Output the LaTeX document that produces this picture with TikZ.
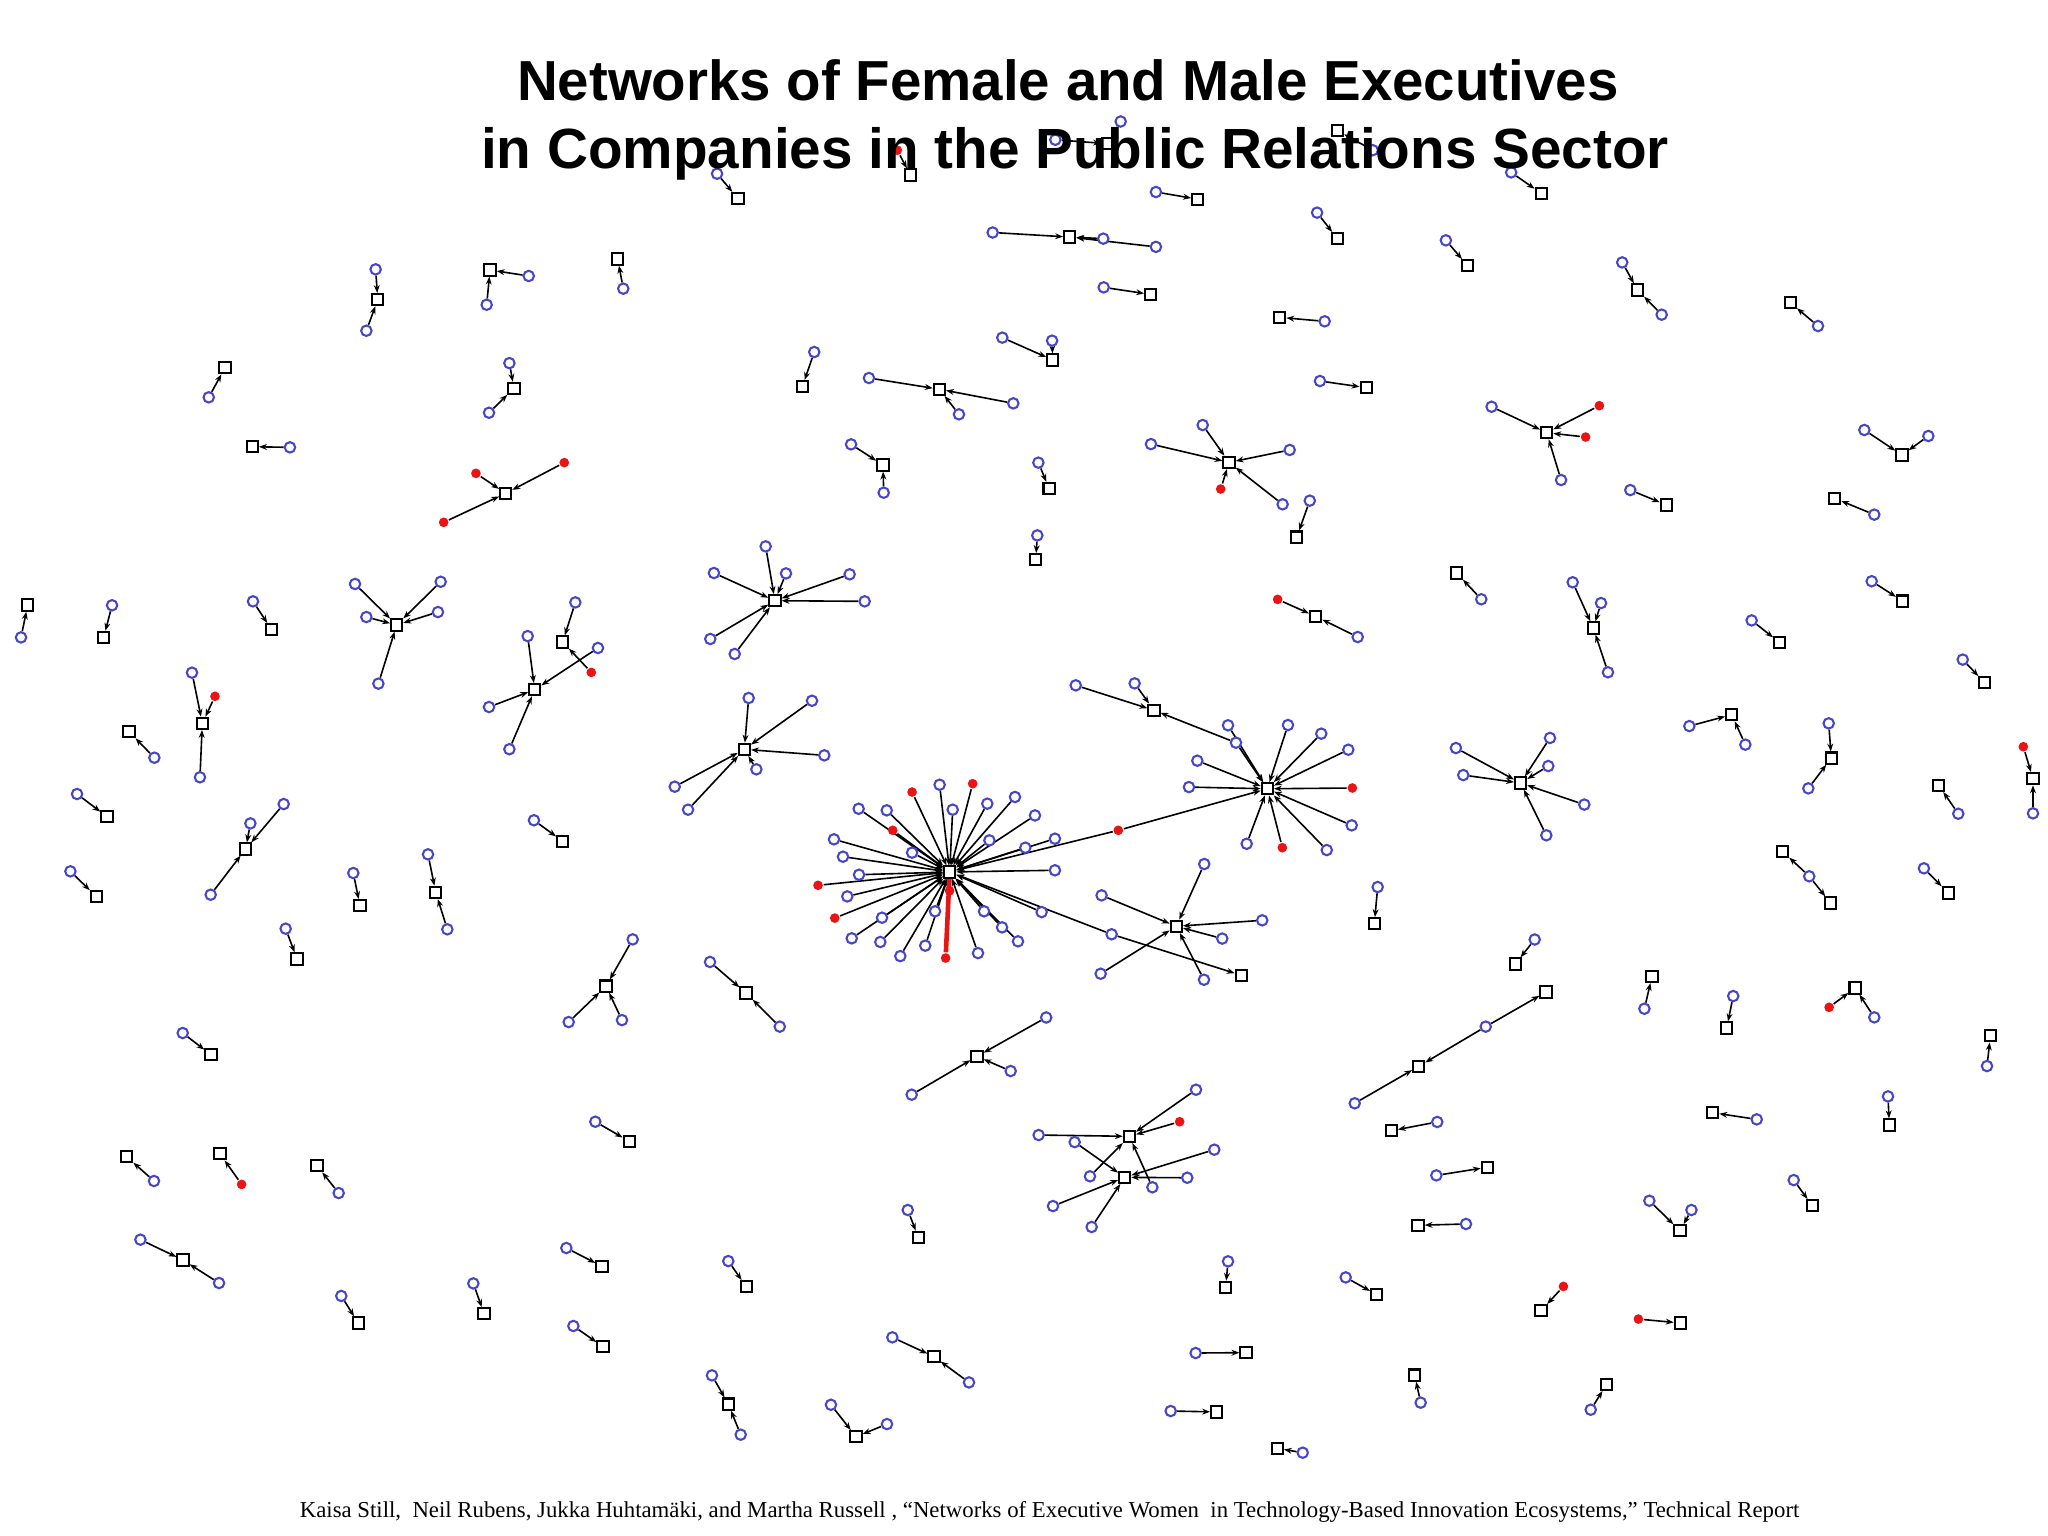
\documentclass[tikz,border=0pt]{standalone}
\usepackage{fontspec}
\setmainfont{Liberation Serif}
\newfontfamily\titlefont{Liberation Sans}
\usetikzlibrary{arrows.meta}
\definecolor{pblue}{RGB}{70,70,200}
\definecolor{wred}{RGB}{235,20,20}
\pgfdeclarelayer{back}
\pgfdeclarelayer{edges}
\pgfsetlayers{back,edges,main}
\tikzset{
 pc/.style={circle,draw=pblue,line width=0.45pt,fill=white,inner sep=0pt,minimum size=0.8mm},
 wf/.style={circle,fill=wred,inner sep=0pt,minimum size=0.74mm},
 co/.style={rectangle,draw=black,line width=0.45pt,fill=white,inner sep=0pt,minimum size=0.86mm},
 ed/.style={draw=black,line width=0.35pt,-{Stealth[length=0.6mm,width=0.45mm]}},
 red edge/.style={draw=wred,line width=1pt},
}
\begin{document}
\begin{tikzpicture}[x=0.1mm,y=-0.1mm]
\begin{pgfonlayer}{back}
\fill[white] (0,0) rectangle (1568,1176);
\end{pgfonlayer}
\useasboundingbox (0,0) rectangle (1568,1176);

% ---------------- nodes ----------------
\node[pc] (g1a) at (549,133) {}; \node[co] (g1s) at (565,152) {};
\node[wf] (g2a) at (687,115) {}; \node[co] (g2s) at (697,134) {};
\node[pc] (g3a) at (808,107) {}; \node[pc] (g3b) at (858,93) {}; \node[co] (g3s) at (848,110) {};
\node[co] (g4s) at (1024,100) {}; \node[pc] (g4a) at (1051,115) {};
\node[pc] (g5a) at (1157,132) {}; \node[co] (g5s) at (1180,148) {};
\node[pc] (g6a) at (885,147) {}; \node[co] (g6s) at (917,152.5) {};
\node[pc] (g7a) at (760,178) {}; \node[co] (g7s) at (819,181.5) {}; \node[pc] (g7b) at (844.7,182.7) {}; \node[pc] (g7c) at (885,189) {};
\node[pc] (g8a) at (845,220) {}; \node[co] (g8s) at (881,225.4) {};
\node[pc] (g9a) at (1008.4,162.8) {}; \node[co] (g9s) at (1023.9,182.7) {};
\node[pc] (g10a) at (1107,184) {}; \node[co] (g10s) at (1123.7,203.4) {};
\node[co] (g11s) at (979.8,243) {}; \node[pc] (g11a) at (1014.2,246) {};
\node[pc] (g12a) at (1010.6,291.7) {}; \node[co] (g12s) at (1046,296.8) {};
\node[pc] (g13a) at (1242,200.9) {}; \node[co] (g13s) at (1253.8,222) {}; \node[pc] (g13b) at (1272.2,240.9) {};
\node[co] (g14s) at (1370.7,231.7) {}; \node[pc] (g14a) at (1391.9,249.6) {};
\node[pc] (g15a) at (287.6,206.2) {}; \node[co] (g15s) at (289.2,229.4) {}; \node[pc] (g15b) at (280.5,253.2) {};
\node[co] (g16s) at (375.2,206.7) {}; \node[pc] (g16a) at (404.8,211.3) {}; \node[pc] (g16b) at (372.6,233.3) {};
\node[co] (g17s) at (472.9,198.3) {}; \node[pc] (g17a) at (477.2,221) {};
\node[co] (g18s) at (172.3,281.5) {}; \node[pc] (g18a) at (159.8,304.2) {};
\node[co] (g19s) at (193.2,342) {}; \node[pc] (g19a) at (222,342.5) {};
\node[pc] (g20a) at (390,278) {}; \node[co] (g20s) at (393.5,297.3) {}; \node[pc] (g20b) at (374.4,316) {};
\node[wf] (g21a) at (364.4,362.4) {}; \node[co] (g21s) at (387.2,377.7) {}; \node[wf] (g21b) at (432,354.2) {}; \node[wf] (g21c) at (339.7,399.9) {};
\node[pc] (g22a) at (623.4,269.5) {}; \node[co] (g22s) at (614.3,296) {};
\node[pc] (g23a) at (665.3,289.4) {}; \node[co] (g23s) at (719.2,298) {}; \node[pc] (g23b) at (775.8,308.8) {}; \node[pc] (g23c) at (734.2,317.2) {};
\node[pc] (g24a) at (767.4,258.5) {}; \node[pc] (g24b) at (805.5,260.8) {}; \node[co] (g24s) at (806,275.6) {};
\node[pc] (g25a) at (651.6,340.2) {}; \node[co] (g25s) at (676,356) {}; \node[pc] (g25b) at (676.6,377.2) {};
\node[pc] (g26a) at (795,354.2) {}; \node[co] (g26s) at (803.2,373.9) {};
\node[pc] (g27a) at (794.2,409.9) {}; \node[co] (g27s) at (793,428.5) {};
\node[co] (g28s) at (941,354) {}; \node[pc] (g28a) at (920.8,325.4) {}; \node[pc] (g28b) at (881.2,340) {}; \node[pc] (g28c) at (987.4,344.5) {}; \node[wf] (g28d) at (934.6,374.4) {}; \node[pc] (g28e) at (982,386.1) {};
\node[pc] (g29a) at (1002.8,383.3) {}; \node[co] (g29s) at (992.8,411.2) {};
\node[co] (g31s) at (1184.2,331.3) {}; \node[pc] (g31a) at (1142,311.4) {}; \node[wf] (g31b) at (1224.5,310.6) {}; \node[wf] (g31c) at (1214,334.6) {}; \node[pc] (g31d) at (1195.2,367.5) {};
\node[pc] (g32a) at (1427.4,329.2) {}; \node[co] (g32s) at (1456.2,348.4) {}; \node[pc] (g32b) at (1476.4,333.8) {};
\node[pc] (g33a) at (1248.2,375.2) {}; \node[co] (g33s) at (1275.8,386.6) {};
\node[co] (g34s) at (1404.7,381.5) {}; \node[pc] (g34a) at (1435,394) {};
\node[co] (g35s) at (21.2,463.2) {}; \node[pc] (g35a) at (16.1,488) {};
\node[pc] (g36a) at (85.8,463.4) {}; \node[co] (g36s) at (79.4,488) {};
\node[pc] (g37a) at (193.7,460.4) {}; \node[co] (g37s) at (208,482.1) {};
\node[co] (g38s) at (303.7,478.5) {}; \node[pc] (g38a) at (271.8,447.1) {}; \node[pc] (g38b) at (337.4,445.4) {}; \node[pc] (g38c) at (280.5,472.4) {}; \node[pc] (g38d) at (335.3,468.6) {}; \node[pc] (g38e) at (289.7,523.4) {};
\node[pc] (g39a) at (147,515) {}; \node[wf] (g39b) at (164.6,533.1) {}; \node[co] (g39s) at (154.9,553.8) {}; \node[pc] (g39c) at (153.1,595.1) {};
\node[co] (g40s) at (98.8,560.2) {}; \node[pc] (g40a) at (118.2,580.1) {};
\node[pc] (g41a) at (59,607.9) {}; \node[co] (g41s) at (81.9,625.3) {};
\node[pc] (g42a) at (53.9,667.1) {}; \node[co] (g42s) at (73.8,686.5) {};
\node[pc] (g43a) at (191.7,630.4) {}; \node[pc] (g43b) at (217.2,615.6) {}; \node[co] (g43s) at (188.1,650) {}; \node[pc] (g43c) at (161.3,685) {};
\node[pc] (g44a) at (270.5,668.4) {}; \node[co] (g44s) at (275.6,693.4) {};
\node[pc] (g45a) at (327.7,654.1) {}; \node[co] (g45s) at (333.6,683.2) {}; \node[pc] (g45b) at (342.5,711.5) {};
\node[pc] (g46a) at (218.7,711) {}; \node[co] (g46s) at (227.4,734.2) {};
\node[pc] (g47a) at (440.5,461.2) {}; \node[co] (g47s) at (430.8,491.5) {}; \node[wf] (g47b) at (452.7,514.8) {}; \node[pc] (g47c) at (457.8,496.1) {}; \node[pc] (g47d) at (404,487) {}; \node[co] (g47t) at (409.4,528) {}; \node[pc] (g47e) at (374.4,541.3) {}; \node[pc] (g47f) at (390,573.6) {};
\node[co] (g48s) at (593.3,459.9) {}; \node[pc] (g48a) at (586.2,418.3) {}; \node[pc] (g48b) at (546.6,438.7) {}; \node[pc] (g48c) at (601.8,439) {}; \node[pc] (g48d) at (650.5,439.7) {}; \node[pc] (g48e) at (662,460.4) {}; \node[pc] (g48f) at (543.8,489.2) {}; \node[pc] (g48g) at (562.5,500.7) {};
\node[co] (g49s) at (569.9,573.7) {}; \node[pc] (g49a) at (573.2,534.4) {}; \node[pc] (g49b) at (621.7,536.5) {}; \node[pc] (g49c) at (631.1,578.3) {}; \node[pc] (g49d) at (579.1,589) {}; \node[pc] (g49e) at (516.6,602.3) {}; \node[pc] (g49f) at (526.8,619.9) {};
\node[pc] (g50a) at (408.8,628) {}; \node[co] (g50s) at (430.8,644.1) {};
% hub
\node[co] (hub) at (727.1,667.6) {};
\node[wf] (h1) at (698.3,606.4) {}; \node[pc] (h2) at (719.4,600.8) {}; \node[wf] (h3) at (744.7,600) {};
\node[pc] (h4) at (729.4,619.9) {}; \node[pc] (h5) at (755.9,615.3) {}; \node[pc] (h6) at (777.1,610.2) {};
\node[pc] (h7) at (657.4,619.2) {}; \node[pc] (h8) at (678.9,620.4) {}; \node[wf] (h9) at (683.5,635.7) {};
\node[pc] (h10) at (638.5,642.6) {}; \node[pc] (h11) at (698.3,652.8) {}; \node[pc] (h12) at (757.5,643.4) {};
\node[pc] (h13) at (785,649) {}; \node[pc] (h14) at (645.4,655.9) {}; \node[pc] (h15) at (657.7,669.7) {};
\node[wf] (h16) at (626.3,677.8) {}; \node[pc] (h17) at (648.7,686.3) {}; \node[wf] (h18) at (639.1,702.9) {};
\node[pc] (h19) at (675.3,702.6) {}; \node[pc] (h20) at (715.9,697.7) {}; \node[pc] (h21) at (753.4,697.7) {};
\node[pc] (h22) at (767.2,710) {}; \node[pc] (h23) at (779.4,720.7) {}; \node[pc] (h24) at (652.1,718.4) {};
\node[pc] (h25) at (674,721.2) {}; \node[pc] (h26) at (689.3,732) {}; \node[pc] (h27) at (708.4,724) {};
\node[pc] (h28) at (748.8,729.7) {}; \node[pc] (h29) at (792.4,624.3) {}; \node[pc] (h30) at (807.7,642.1) {};
\node[pc] (h31) at (807.7,666.3) {}; \node[pc] (h32) at (797.5,698.3) {};
\node[wf] (h33) at (724,733.5) {}; \node[wf] (h34) at (727,682) {};
\node[wf] (bx) at (856.2,635.7) {}; \node[pc] (cx) at (851.1,715.3) {};
% star b
\node[co] (sb) at (970.3,603.9) {};
\node[pc] (b1) at (940.2,555.3) {}; \node[pc] (b2) at (946.3,568.6) {}; \node[pc] (b3) at (986.1,555.1) {};
\node[pc] (b4) at (1011.6,561.7) {}; \node[pc] (b5) at (1032.3,574) {}; \node[pc] (b6) at (916.7,582.4) {};
\node[pc] (b7) at (910.3,602.6) {}; \node[wf] (b8) at (1035.4,603.3) {}; \node[pc] (b9) at (1034.9,631.9) {};
\node[pc] (b10) at (1015.8,650.8) {}; \node[wf] (b11) at (981.8,649) {}; \node[pc] (b12) at (954.5,646) {};
\node[co] (sa) at (883.5,543.8) {}; \node[pc] (a1) at (823.6,524.7) {}; \node[pc] (a2) at (868.7,523.2) {};
% star c
\node[co] (sc) at (900.6,709.2) {};
\node[pc] (c1) at (922,661.5) {}; \node[pc] (c2) at (843.4,685.5) {}; \node[pc] (c3) at (966.4,704.6) {};
\node[pc] (c4) at (935.8,718.6) {}; \node[pc] (c5) at (842.7,745.5) {}; \node[pc] (c6) at (921.8,750.1) {};
\node[co] (sd) at (950.4,746.7) {};
% right middle
\node[pc] (g51a) at (1054.8,679.1) {}; \node[co] (g51s) at (1052.2,707.2) {};
\node[wf] (g52a) at (978.2,458.9) {}; \node[co] (g52s) at (1007.3,471.9) {}; \node[pc] (g52b) at (1039.5,487.7) {};
\node[co] (g53s) at (1115.3,438.7) {}; \node[pc] (g53a) at (1134.1,458.8) {};
\node[pc] (g54a) at (1204.1,445.8) {}; \node[pc] (g54b) at (1225.8,461.7) {}; \node[co] (g54s) at (1219.9,480.8) {}; \node[pc] (g54c) at (1231.1,514.7) {};
\node[co] (g56s) at (1164.2,599.5) {}; \node[pc] (g56a) at (1114.7,572.7) {}; \node[pc] (g56b) at (1120.3,593.4) {}; \node[pc] (g56c) at (1186.7,565) {}; \node[pc] (g56d) at (1185.4,586.5) {}; \node[pc] (g56e) at (1213,616) {}; \node[pc] (g56f) at (1183.9,639.5) {};
\node[pc] (g57a) at (1293.4,555.9) {}; \node[co] (g57s) at (1325.8,547.2) {}; \node[pc] (g57b) at (1336.3,570.1) {};
\node[pc] (g58a) at (1400.1,553.8) {}; \node[co] (g58s) at (1402.1,580.4) {}; \node[pc] (g58b) at (1384.5,603.6) {};
\node[pc] (g59a) at (1341.1,475) {}; \node[co] (g59s) at (1362.6,492) {};
\node[pc] (g60a) at (1433,445) {}; \node[co] (g60s) at (1456.7,460.2) {};
\node[pc] (g61a) at (1502.7,505) {}; \node[co] (g61s) at (1519.5,522.7) {};
\node[wf] (g62a) at (1549.1,571.7) {}; \node[co] (g62s) at (1556.5,596.2) {}; \node[pc] (g62b) at (1556.5,622.7) {};
\node[co] (g63s) at (1484.3,601.3) {}; \node[pc] (g63a) at (1499.3,623) {};
\node[co] (g64s) at (1364.8,651.8) {}; \node[pc] (g64a) at (1385.2,670.9) {}; \node[co] (g64t) at (1401.6,691.4) {};
\node[pc] (g65a) at (1473,664.8) {}; \node[co] (g65s) at (1491.6,683.7) {};
\node[pc] (g66a) at (1175,719.3) {}; \node[co] (g66s) at (1160.1,738) {};
\node[co] (g67s) at (1264.8,747.5) {}; \node[pc] (g67a) at (1259,772.3) {};
\node[pc] (g68a) at (1327,762.6) {}; \node[co] (g68s) at (1322,787) {};
\node[wf] (g69a) at (1400.4,771.2) {}; \node[co] (g69s) at (1420.3,756.4) {}; \node[pc] (g69b) at (1435,778.9) {};
\node[co] (g70s) at (1523.9,793) {}; \node[pc] (g70a) at (1521.3,816.2) {};
% lower middle
\node[pc] (g71a) at (484.4,719.2) {}; \node[co] (g71s) at (464,755) {}; \node[pc] (g71b) at (435.4,782.5) {}; \node[pc] (g71c) at (476.2,781) {};
\node[pc] (g72a) at (543.6,736.5) {}; \node[co] (g72s) at (571.2,760.3) {}; \node[pc] (g72b) at (597,786) {};
\node[co] (g74s) at (748,808.8) {}; \node[pc] (g74a) at (698,838.1) {}; \node[pc] (g74b) at (773.8,820) {}; \node[pc] (g74c) at (801,779) {};
\node[co] (g75s) at (1183.7,759.5) {}; \node[pc] (g75a) at (1137.5,786) {}; \node[co] (g75t) at (1086.2,816.4) {}; \node[pc] (g75b) at (1037.2,844.7) {};
\node[co] (g76s) at (1065.2,865.7) {}; \node[pc] (g76a) at (1100.4,859) {};
\node[pc] (g77a) at (1099.7,899.9) {}; \node[co] (g77s) at (1138.7,893.7) {};
\node[co] (g78s) at (1085.7,938.1) {}; \node[pc] (g78a) at (1122.4,937.1) {};
% double star
\node[co] (d1) at (864.7,870) {}; \node[co] (d2) at (861.1,901.4) {};
\node[pc] (da) at (795.2,869) {}; \node[pc] (db) at (915.7,834.3) {}; \node[wf] (dc) at (903.2,858.8) {};
\node[pc] (dd) at (834.5,900.6) {}; \node[pc] (de) at (882.3,909) {};
\node[pc] (df) at (822.8,874.4) {}; \node[pc] (dg) at (929.7,880.2) {}; \node[pc] (dh) at (909,901.7) {};
\node[pc] (di) at (806.2,923.4) {}; \node[pc] (dj) at (835.8,939.4) {};
\node[pc] (g80a) at (940.2,965.7) {}; \node[co] (g80s) at (938.4,985.6) {};
\node[pc] (g81a) at (1030.3,978) {}; \node[co] (g81s) at (1054,991.2) {};
\node[pc] (g82a) at (915.4,1035.9) {}; \node[co] (g82s) at (954,1035.6) {};
\node[pc] (g83a) at (896.3,1080.3) {}; \node[co] (g83s) at (931.5,1081) {};
\node[co] (g84s) at (977.9,1108.9) {}; \node[pc] (g84a) at (997.4,1112.2) {};
\node[co] (g85s) at (1083.1,1052.8) {}; \node[pc] (g85a) at (1087.7,1073.9) {};
\node[co] (g86s) at (1311.3,851.9) {}; \node[pc] (g86a) at (1345,857) {};
\node[pc] (g87a) at (1445.5,839.4) {}; \node[co] (g87s) at (1446.5,861.3) {};
\node[pc] (g88a) at (1373.3,903.5) {}; \node[co] (g88s) at (1387.6,923.1) {};
\node[pc] (g89a) at (1262.8,919.3) {}; \node[co] (g89s) at (1286.3,942.3) {}; \node[pc] (g89b) at (1295,926.4) {};
\node[wf] (g90a) at (1197,984.9) {}; \node[co] (g90s) at (1179.8,1003.5) {};
\node[wf] (g91a) at (1254.4,1009.9) {}; \node[co] (g91s) at (1286.5,1012.9) {};
\node[co] (g92s) at (1230.1,1059.9) {}; \node[pc] (g92a) at (1217.9,1079.3) {};
% lower left
\node[pc] (g93a) at (139.9,790.9) {}; \node[co] (g93s) at (161.5,807.5) {};
\node[co] (g94s) at (97,885.6) {}; \node[pc] (g94a) at (117.9,904.2) {};
\node[co] (g95s) at (168.4,883.3) {}; \node[wf] (g95a) at (185,906.8) {};
\node[co] (g96s) at (242.7,892.5) {}; \node[pc] (g96a) at (259.3,913.4) {};
\node[pc] (g97a) at (107.5,949.1) {}; \node[co] (g97s) at (140.1,964.7) {}; \node[pc] (g97b) at (167.7,982.3) {};
\node[pc] (g98a) at (261.3,992.2) {}; \node[co] (g98s) at (274.3,1012.9) {};
\node[pc] (g99a) at (362.4,982.6) {}; \node[co] (g99s) at (370.6,1005.8) {};
\node[pc] (g100a) at (455.8,858.8) {}; \node[co] (g100s) at (481.8,873.8) {};
\node[pc] (g101a) at (433.6,955.5) {}; \node[co] (g101s) at (460.9,969.5) {};
\node[pc] (g102a) at (557.6,965.5) {}; \node[co] (g102s) at (571.4,985.1) {};
\node[pc] (g103a) at (439,1015.2) {}; \node[co] (g103s) at (461.7,1031.1) {};
\node[pc] (g104a) at (545.1,1053) {}; \node[co] (g104s) at (557.6,1075) {}; \node[pc] (g104b) at (567.1,1098.4) {};
\node[pc] (g105a) at (636.2,1075.5) {}; \node[co] (g105s) at (655.4,1100) {}; \node[pc] (g105b) at (679.1,1090.3) {};
\node[pc] (g106a) at (683.2,1023.9) {}; \node[co] (g106s) at (715.1,1038.7) {}; \node[pc] (g106b) at (741.9,1058.4) {};
\node[pc] (g107a) at (695,926.4) {}; \node[co] (g107s) at (703.1,947.3) {};

% ---------------- edges ----------------
\begin{pgfonlayer}{edges}
\draw[ed] (g1a) -- (g1s); \draw[ed] (g2a) -- (g2s);
\draw[ed] (g3a) -- (g3s); \draw[ed] (g3b) -- (g3s);
\draw[ed] (g4a) -- (g4s); \draw[ed] (g5a) -- (g5s); \draw[ed] (g6a) -- (g6s);
\draw[ed] (g7a) -- (g7s); \draw[ed] (g7b) -- (g7s); \draw[ed] (g7c) -- (g7s);
\draw[ed] (g8a) -- (g8s); \draw[ed] (g9a) -- (g9s); \draw[ed] (g10a) -- (g10s);
\draw[ed] (g11a) -- (g11s); \draw[ed] (g12a) -- (g12s);
\draw[ed] (g13a) -- (g13s); \draw[ed] (g13b) -- (g13s);
\draw[ed] (g14a) -- (g14s);
\draw[ed] (g15a) -- (g15s); \draw[ed] (g15b) -- (g15s);
\draw[ed] (g16a) -- (g16s); \draw[ed] (g16b) -- (g16s);
\draw[ed] (g17a) -- (g17s); \draw[ed] (g18a) -- (g18s); \draw[ed] (g19a) -- (g19s);
\draw[ed] (g20a) -- (g20s); \draw[ed] (g20b) -- (g20s);
\draw[ed] (g21a) -- (g21s); \draw[ed] (g21b) -- (g21s); \draw[ed] (g21c) -- (g21s);
\draw[ed] (g22a) -- (g22s);
\draw[ed] (g23a) -- (g23s); \draw[ed] (g23b) -- (g23s); \draw[ed] (g23c) -- (g23s);
\draw[ed] (g24a) -- (g24s); \draw[ed] (g24b) -- (g24s);
\draw[ed] (g25a) -- (g25s); \draw[ed] (g25b) -- (g25s);
\draw[ed] (g26a) -- (g26s); \draw[ed] (g27a) -- (g27s);
\foreach \n in {g28a,g28b,g28c,g28d,g28e} \draw[ed] (\n) -- (g28s);
\draw[ed] (g29a) -- (g29s);
\foreach \n in {g31a,g31b,g31c,g31d} \draw[ed] (\n) -- (g31s);
\draw[ed] (g32a) -- (g32s); \draw[ed] (g32b) -- (g32s);
\draw[ed] (g33a) -- (g33s); \draw[ed] (g34a) -- (g34s);
\draw[ed] (g35a) -- (g35s); \draw[ed] (g36a) -- (g36s); \draw[ed] (g37a) -- (g37s);
\foreach \n in {g38a,g38b,g38c,g38d,g38e} \draw[ed] (\n) -- (g38s);
\foreach \n in {g39a,g39b,g39c} \draw[ed] (\n) -- (g39s);
\draw[ed] (g40a) -- (g40s); \draw[ed] (g41a) -- (g41s); \draw[ed] (g42a) -- (g42s);
\foreach \n in {g43a,g43b,g43c} \draw[ed] (\n) -- (g43s);
\draw[ed] (g44a) -- (g44s);
\draw[ed] (g45a) -- (g45s); \draw[ed] (g45b) -- (g45s);
\draw[ed] (g46a) -- (g46s);
\draw[ed] (g47a) -- (g47s); \draw[ed] (g47b) -- (g47s);
\foreach \n in {g47c,g47d,g47e,g47f} \draw[ed] (\n) -- (g47t);
\foreach \n in {g48a,g48b,g48c,g48d,g48e,g48f,g48g} \draw[ed] (\n) -- (g48s);
\foreach \n in {g49a,g49b,g49c,g49d,g49e,g49f} \draw[ed] (\n) -- (g49s);
\draw[ed] (g50a) -- (g50s);
\foreach \n in {h1,h2,h3,h4,h5,h6,h7,h8,h9,h10,h11,h12,h13,h14,h15,h16,h17,h18,h19,h20,h21,h22,h23,h24,h25,h26,h27,h28,h29,h30,h31,h32,bx,cx} \draw[ed] (\n) -- (hub);
\draw[red edge] (h33) -- (hub.center);
\foreach \n in {b1,b2,b3,b4,b5,b6,b7,b8,b9,b10,b11,b12,bx} \draw[ed] (\n) -- (sb);
\draw[ed] (a1) -- (sa); \draw[ed] (a2) -- (sa); \draw[ed] (b2) -- (sa);
\foreach \n in {c1,c2,c3,c4,c5,c6} \draw[ed] (\n) -- (sc);
\draw[ed] (cx) -- (sd);
\draw[ed] (g51a) -- (g51s);
\draw[ed] (g52a) -- (g52s); \draw[ed] (g52b) -- (g52s);
\draw[ed] (g53a) -- (g53s);
\foreach \n in {g54a,g54b,g54c} \draw[ed] (\n) -- (g54s);
\foreach \n in {g56a,g56b,g56c,g56d,g56e,g56f} \draw[ed] (\n) -- (g56s);
\draw[ed] (g57a) -- (g57s); \draw[ed] (g57b) -- (g57s);
\draw[ed] (g58a) -- (g58s); \draw[ed] (g58b) -- (g58s);
\draw[ed] (g59a) -- (g59s); \draw[ed] (g60a) -- (g60s); \draw[ed] (g61a) -- (g61s);
\draw[ed] (g62a) -- (g62s); \draw[ed] (g62b) -- (g62s);
\draw[ed] (g63a) -- (g63s);
\draw[ed] (g64a) -- (g64s); \draw[ed] (g64a) -- (g64t);
\draw[ed] (g65a) -- (g65s); \draw[ed] (g66a) -- (g66s); \draw[ed] (g67a) -- (g67s); \draw[ed] (g68a) -- (g68s);
\draw[ed] (g69a) -- (g69s); \draw[ed] (g69b) -- (g69s);
\draw[ed] (g70a) -- (g70s);
\foreach \n in {g71a,g71b,g71c} \draw[ed] (\n) -- (g71s);
\draw[ed] (g72a) -- (g72s); \draw[ed] (g72b) -- (g72s);
\foreach \n in {g74a,g74b,g74c} \draw[ed] (\n) -- (g74s);
\draw[ed] (g75a) -- (g75s); \draw[ed] (g75a) -- (g75t); \draw[ed] (g75b) -- (g75t);
\draw[ed] (g76a) -- (g76s); \draw[ed] (g77a) -- (g77s); \draw[ed] (g78a) -- (g78s);
\foreach \n in {da,db,dc,dd,de} \draw[ed] (\n) -- (d1);
\foreach \n in {df,dg,dh,di,dj} \draw[ed] (\n) -- (d2);
\draw[ed] (g80a) -- (g80s); \draw[ed] (g81a) -- (g81s); \draw[ed] (g82a) -- (g82s);
\draw[ed] (g83a) -- (g83s); \draw[ed] (g84a) -- (g84s); \draw[ed] (g85a) -- (g85s);
\draw[ed] (g86a) -- (g86s); \draw[ed] (g87a) -- (g87s); \draw[ed] (g88a) -- (g88s);
\draw[ed] (g89a) -- (g89s); \draw[ed] (g89b) -- (g89s);
\draw[ed] (g90a) -- (g90s); \draw[ed] (g91a) -- (g91s); \draw[ed] (g92a) -- (g92s);
\draw[ed] (g93a) -- (g93s); \draw[ed] (g94a) -- (g94s); \draw[ed] (g95a) -- (g95s);
\draw[ed] (g96a) -- (g96s);
\draw[ed] (g97a) -- (g97s); \draw[ed] (g97b) -- (g97s);
\draw[ed] (g98a) -- (g98s); \draw[ed] (g99a) -- (g99s); \draw[ed] (g100a) -- (g100s);
\draw[ed] (g101a) -- (g101s); \draw[ed] (g102a) -- (g102s); \draw[ed] (g103a) -- (g103s);
\draw[ed] (g104a) -- (g104s); \draw[ed] (g104b) -- (g104s);
\draw[ed] (g105a) -- (g105s); \draw[ed] (g105b) -- (g105s);
\draw[ed] (g106a) -- (g106s); \draw[ed] (g106b) -- (g106s);
\draw[ed] (g107a) -- (g107s);
\end{pgfonlayer}

% ---------------- texts ----------------
\node[anchor=base,inner sep=0pt,font=\titlefont\bfseries\fontsize{12.3}{14.8}\selectfont] (title1) at (817.5,76.6) {Networks of Female and Male Executives};
\node[anchor=base,inner sep=0pt,font=\titlefont\bfseries\fontsize{12.35}{14.8}\selectfont] (title2) at (823,129) {in Companies in the Public Relations Sector};
\node[anchor=base,inner sep=0pt] (foot) at (803.6,1161.6) {\resizebox{114.8mm}{!}{Kaisa Still,\ \ Neil Rubens, Jukka Huhtamäki, and Martha Russell , “Networks of Executive Women\ \ in Technology-Based Innovation Ecosystems,” Technical Report}};
\end{tikzpicture}
\end{document}
